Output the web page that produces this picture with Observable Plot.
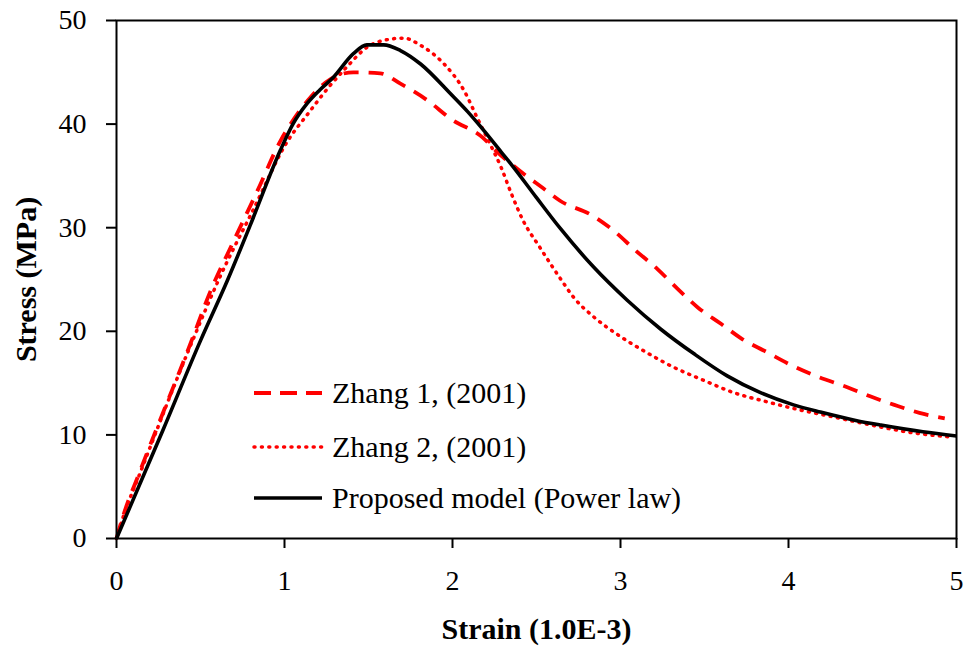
<!DOCTYPE html>
<html>
<head>
<meta charset="utf-8">
<script src="https://cdn.jsdelivr.net/npm/d3@7"></script>
<script src="https://cdn.jsdelivr.net/npm/@observablehq/plot@0.6"></script>
<style>
  body { margin: 0; background: #fff; }
  #wrap { position: relative; width: 968px; height: 652px; font-family: "Liberation Serif", "Times New Roman", serif; }
  #wrap svg { font-family: "Liberation Serif", "Times New Roman", serif; overflow: visible; }
  g[aria-label="x-axis label"] text, g[aria-label="y-axis label"] text { font-weight: bold; font-size: 30px; }
  .lg { position: absolute; left: 253px; height: 40px; display: flex; align-items: center; font-size: 30px; color: #000; white-space: nowrap; }
  .lg svg { margin-right: 9px; }
</style>
</head>
<body>
<div id="wrap"></div>
<script>
// ---- data ----
const xTicks = [0, 1, 2, 3, 4, 5];
const yTicks = [0, 10, 20, 30, 40, 50];

const seriesNames = ["Zhang 1, (2001)", "Zhang 2, (2001)", "Proposed model (Power law)"];

const zhang1Strain = [0, 0.04, 0.14, 0.44, 0.56, 0.70, 0.84, 0.98, 1.04, 1.155, 1.27, 1.41, 1.57, 1.69, 1.85, 1.99, 2.18, 2.26, 2.40, 2.54, 2.64, 2.83, 2.96, 3.09, 3.22, 3.34, 3.46, 3.60, 3.72, 3.87, 4.02, 4.16, 4.35, 4.49, 4.63, 4.81, 4.93];
const zhang1Stress = [0, 2.2, 6.5, 18.8, 23.9, 28.8, 33.6, 38.5, 40.1, 42.6, 44.3, 45.0, 44.9, 43.9, 42.3, 40.5, 38.7, 37.4, 35.5, 33.8, 32.6, 31.2, 29.7, 27.8, 26.0, 24.1, 22.3, 20.7, 19.3, 18.0, 16.7, 15.7, 14.6, 13.7, 12.9, 12.0, 11.6];

const zhang2Strain = [0, 0.04, 0.14, 0.44, 0.62, 0.81, 1.02, 1.14, 1.26, 1.37, 1.49, 1.63, 1.71, 1.81, 1.95, 2.07, 2.15, 2.22, 2.29, 2.35, 2.42, 2.52, 2.65, 2.72, 2.84, 2.99, 3.15, 3.32, 3.49, 3.67, 3.87, 4.07, 4.19, 4.45, 4.74, 4.97];
const zhang2Stress = [0, 2.1, 6.3, 18.6, 25.4, 31.6, 38.4, 41.0, 43.5, 45.5, 47.4, 48.2, 48.3, 47.6, 45.8, 43.2, 40.5, 38.2, 35.8, 33.3, 30.7, 28.1, 24.9, 23.3, 21.4, 19.6, 18.0, 16.5, 15.3, 14.1, 13.2, 12.4, 12.0, 11.1, 10.2, 9.8];

const modelStrain = [0, 0.275, 0.5, 0.66, 0.8, 0.976, 1.05, 1.135, 1.21, 1.29, 1.41, 1.49, 1.59, 1.69, 1.81, 1.99, 2.09, 2.17, 2.29, 2.36, 2.50, 2.643, 2.84, 3.04, 3.24, 3.44, 3.635, 3.83, 4.03, 4.19, 4.40, 4.55, 4.80, 5.00];
const modelStress = [0, 10.4, 19.1, 24.9, 30.4, 37.5, 40.0, 42.0, 43.3, 44.5, 46.8, 47.65, 47.65, 47.1, 45.8, 42.9, 41.2, 39.7, 37.3, 35.9, 32.9, 29.9, 26.2, 23.0, 20.2, 17.8, 15.7, 14.1, 12.9, 12.2, 11.4, 10.95, 10.3, 9.9];

// ---- build rows ----
const toRows = (xs, ys) => xs.map((x, i) => ({strain: x, stress: ys[i]}));
const zhang1 = toRows(zhang1Strain, zhang1Stress);
const zhang2 = toRows(zhang2Strain, zhang2Stress);
const model = toRows(modelStrain, modelStress);

const RED = "#ff0000";
const styles = [
  {stroke: RED, strokeWidth: 3.8, strokeDasharray: "15,10", strokeLinecap: "butt"},
  {stroke: RED, strokeWidth: 3.5, strokeDasharray: "1,6.4", strokeLinecap: "round"},
  {stroke: "#000", strokeWidth: 3.6, strokeDasharray: null, strokeLinecap: "butt"}
];

const chart = Plot.plot({
  width: 968,
  height: 652,
  marginLeft: 116,
  marginRight: 12,
  marginTop: 20,
  marginBottom: 114,
  x: {domain: [0, 5]},
  y: {domain: [0, 50]},
  marks: [
    Plot.line(zhang1, {x: "strain", y: "stress", curve: "monotone-x", ...styles[0]}),
    Plot.line(zhang2, {x: "strain", y: "stress", curve: "monotone-x", ...styles[1]}),
    Plot.line(model, {x: "strain", y: "stress", curve: "monotone-x", ...styles[2]}),
    Plot.frame({stroke: "#000", strokeWidth: 2}),
    Plot.axisX({ticks: xTicks, tickFormat: d => String(d), tickSize: 10, tickPadding: 22, fontSize: 28, strokeWidth: 2,
      label: "Strain (1.0E-3)", labelArrow: "none", labelAnchor: "center", labelOffset: 100}),
    Plot.axisY({ticks: yTicks, tickFormat: d => String(d), tickSize: 10, tickPadding: 20, fontSize: 28, strokeWidth: 2,
      label: "Stress (MPa)", labelArrow: "none", labelAnchor: "center", labelOffset: 102})
  ]
});
const wrap = document.getElementById("wrap");
wrap.appendChild(chart);

// ---- legend inside the plot area ----
const legendTops = [373, 427, 478];
seriesNames.forEach((name, i) => {
  const row = document.createElement("div");
  row.className = "lg";
  row.style.top = legendTops[i] + "px";
  const s = styles[i];
  row.innerHTML = `<svg width="70" height="10"><line x1="1" y1="5" x2="69" y2="5" stroke="${s.stroke}" stroke-width="${s.strokeWidth}"${s.strokeDasharray ? ` stroke-dasharray="${i === 0 ? "17,9" : s.strokeDasharray}"` : ""} stroke-linecap="${s.strokeLinecap}"/></svg><span>${name}</span>`;
  wrap.appendChild(row);
});
</script>
</body>
</html>
